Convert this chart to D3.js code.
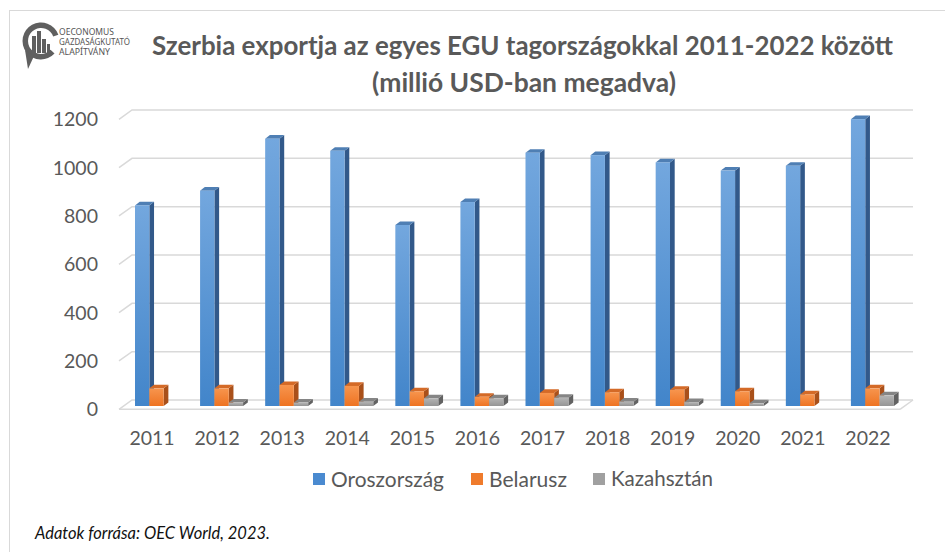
<!DOCTYPE html>
<html>
<head>
<meta charset="utf-8">
<script src="https://cdn.jsdelivr.net/npm/d3@7/dist/d3.min.js"></script>
<style>
  body { margin: 0; background: #fff; }
  svg { display: block; font-family: Lato, "Noto Sans", sans-serif; }
</style>
</head>
<body>
<svg width="945" height="552"></svg>
<script>
"use strict";

// values (millió USD)
const years = ["2011", "2012", "2013", "2014", "2015", "2016", "2017", "2018", "2019", "2020", "2021", "2022"];
const seriesNames = ["Oroszország", "Belarusz", "Kazahsztán"];
const russia = [830, 891, 1106, 1056, 749, 844, 1048, 1038, 1008, 974, 994, 1187];
const belarus = [73, 73, 87, 83, 61, 38, 54, 57, 67, 61, 48, 73];
const kazakhstan = [0, 14, 14, 18, 32, 32, 34, 18, 16, 11, 0, 44];
const yTicks = [0, 200, 400, 600, 800, 1000, 1200];

const svg = d3.select("svg");

// colours: front top, front bottom, side, top
const palette = {
    "Oroszország": { light: "#73a7de", dark: "#4285ca", side: "#32598a", top: "#4f7fb4", key: "#4a8ad0" },
    "Belarusz": { light: "#f7954e", dark: "#ee7322", side: "#a9501a", top: "#d46a27", key: "#ef7b2c" },
    "Kazahsztán": { light: "#b4b4b4", dark: "#959595", side: "#626262", top: "#858585", key: "#a0a0a0" }
};

// fit a text element to a given width by changing its font size
function fitText(sel, target) {
    const n = sel.node();
    const fs = parseFloat(sel.attr("font-size"));
    const w = n.getComputedTextLength();
    sel.attr("font-size", (fs * target / w).toFixed(2));
}

// frame
svg.append("rect")
    .attr("x", 9.5).attr("y", 10.5)
    .attr("width", 945).attr("height", 560)
    .attr("fill", "none").attr("stroke", "#d9d9d9");

// logo: a "C" speech bubble with small bars inside
const logo = svg.append("g").attr("fill", "#5f5f5f");
logo.append("path")
    .attr("d", d3.arc()({ innerRadius: 13, outerRadius: 18.5, startAngle: Math.PI / 2 + 0.75, endAngle: Math.PI * 2.5 - 0.35 }))
    .attr("transform", "translate(41,41)");
logo.append("path").attr("d", "M25,50 L34,56 L28,69 Z");
[[32, 36, 4, 17], [37, 31, 4, 22], [42, 39, 4, 14], [47, 44, 3, 9]].forEach(b => {
    logo.append("rect").attr("x", b[0]).attr("y", b[1]).attr("width", b[2]).attr("height", b[3]);
});
const logoText = [["OECONOMUS", 35, 55], ["GAZDASÁGKUTATÓ", 45, 71], ["ALAPÍTVÁNY", 55, 51]];
logoText.forEach(t => {
    svg.append("text")
        .attr("x", 59).attr("y", t[1])
        .attr("font-size", 8)
        .attr("font-family", "'Liberation Sans Narrow', 'Noto Sans', sans-serif")
        .attr("fill", "#555")
        .attr("textLength", t[2]).attr("lengthAdjust", "spacingAndGlyphs")
        .text(t[0]);
});

// title
const t1 = svg.append("text")
    .attr("x", 522.5).attr("y", 55)
    .attr("text-anchor", "middle")
    .attr("font-size", 22).attr("font-weight", "bold")
    .attr("fill", "#595959")
    .text("Szerbia exportja az egyes EGU tagországokkal 2011-2022 között");
fitText(t1, 741);
const t2 = svg.append("text")
    .attr("x", 524).attr("y", 92)
    .attr("text-anchor", "middle")
    .attr("font-size", 22).attr("font-weight", "bold")
    .attr("fill", "#595959")
    .text("(millió USD-ban megadva)");
fitText(t2, 304);

// scales: back wall, front edge and the bar plane
const yBack = d3.scaleLinear().domain([0, 1200]).range([400, 110]);
const yFront = d3.scaleLinear().domain([0, 1200]).range([409.3, 119.3]);
const yBar = d3.scaleLinear().domain([0, 1200]).range([406, 116]);
const x = d3.scaleBand().domain(years).range([119, 900]);
const xs = d3.scaleBand().domain(seriesNames).range([0, 43]);
const depthX = 13, barDx = 4.7, barDy = -3.6, groupOffset = 16;

// gridlines with the left-wall bend
const grid = svg.append("g").attr("fill", "none").attr("stroke", "#d9d9d9").attr("stroke-width", 1.5);
yTicks.forEach(v => {
    grid.append("polyline")
        .attr("points", [[119, yFront(v)], [119 + depthX, yBack(v)], [900 + depthX, yBack(v)]].join(" "));
});
grid.append("line")
    .attr("x1", 119).attr("x2", 900)
    .attr("y1", yFront(0)).attr("y2", yFront(0));
grid.append("line")
    .attr("x1", 900).attr("x2", 900 + depthX)
    .attr("y1", yFront(0)).attr("y2", yBack(0));

// y tick labels
svg.append("g")
    .selectAll("text")
    .data(yTicks)
    .join("text")
    .attr("x", 98).attr("y", d => yFront(d))
    .attr("dy", "0.36em")
    .attr("text-anchor", "end")
    .attr("font-size", 19.5)
    .attr("fill", "#595959")
    .text(d => d);

// gradients
const defs = svg.append("defs");
seriesNames.forEach((s, i) => {
    const gr = defs.append("linearGradient")
        .attr("id", "front" + i)
        .attr("x1", 0).attr("y1", 0).attr("x2", 0).attr("y2", 1);
    gr.append("stop").attr("offset", "0%").attr("stop-color", palette[s].light);
    gr.append("stop").attr("offset", "100%").attr("stop-color", palette[s].dark);
});

// 3D bars
const seriesValues = [russia, belarus, kazakhstan];
const bars = svg.append("g");
years.forEach((yr, j) => {
    seriesValues.forEach((vals, i) => {
        const v = vals[j];
        if (!v) return;
        const s = seriesNames[i];
        const x0 = x(yr) + groupOffset + xs(s);
        const w = xs.bandwidth();
        const yt = yBar(v), yb = yBar(0);
        const g = bars.append("g");
        g.append("polygon")
            .attr("points", [[x0 + w, yt], [x0 + w + barDx, yt + barDy], [x0 + w + barDx, yb + barDy], [x0 + w, yb]].join(" "))
            .attr("fill", palette[s].side);
        g.append("polygon")
            .attr("points", [[x0, yt], [x0 + barDx, yt + barDy], [x0 + w + barDx, yt + barDy], [x0 + w, yt]].join(" "))
            .attr("fill", palette[s].top);
        g.append("rect")
            .attr("x", x0).attr("y", yt)
            .attr("width", w).attr("height", yb - yt)
            .attr("fill", "url(#front" + i + ")");
    });
});

// x labels
svg.append("g")
    .selectAll("text")
    .data(years)
    .join("text")
    .attr("x", d => x(d) + x.bandwidth() / 2 + 0.5)
    .attr("y", 438)
    .attr("dy", "0.36em")
    .attr("text-anchor", "middle")
    .attr("font-size", 19.5)
    .attr("fill", "#595959")
    .text(d => d);

// legend
const legendX = [313, 471, 593];
const legendW = [113, 78, 102];
const legend = svg.append("g");
seriesNames.forEach((s, i) => {
    legend.append("rect")
        .attr("x", legendX[i]).attr("y", 473)
        .attr("width", 12).attr("height", 12)
        .attr("fill", palette[s].key);
    const lt = legend.append("text")
        .attr("x", legendX[i] + 18).attr("y", 479)
        .attr("dy", "0.36em")
        .attr("font-size", 19.5)
        .attr("fill", "#595959")
        .text(s);
    fitText(lt, legendW[i]);
});

// source note
const src = svg.append("text")
    .attr("x", 35).attr("y", 539)
    .attr("font-size", 16).attr("font-style", "italic")
    .attr("fill", "#111")
    .text("Adatok forrása: OEC World, 2023.");
fitText(src, 235);
</script>
</body>
</html>
